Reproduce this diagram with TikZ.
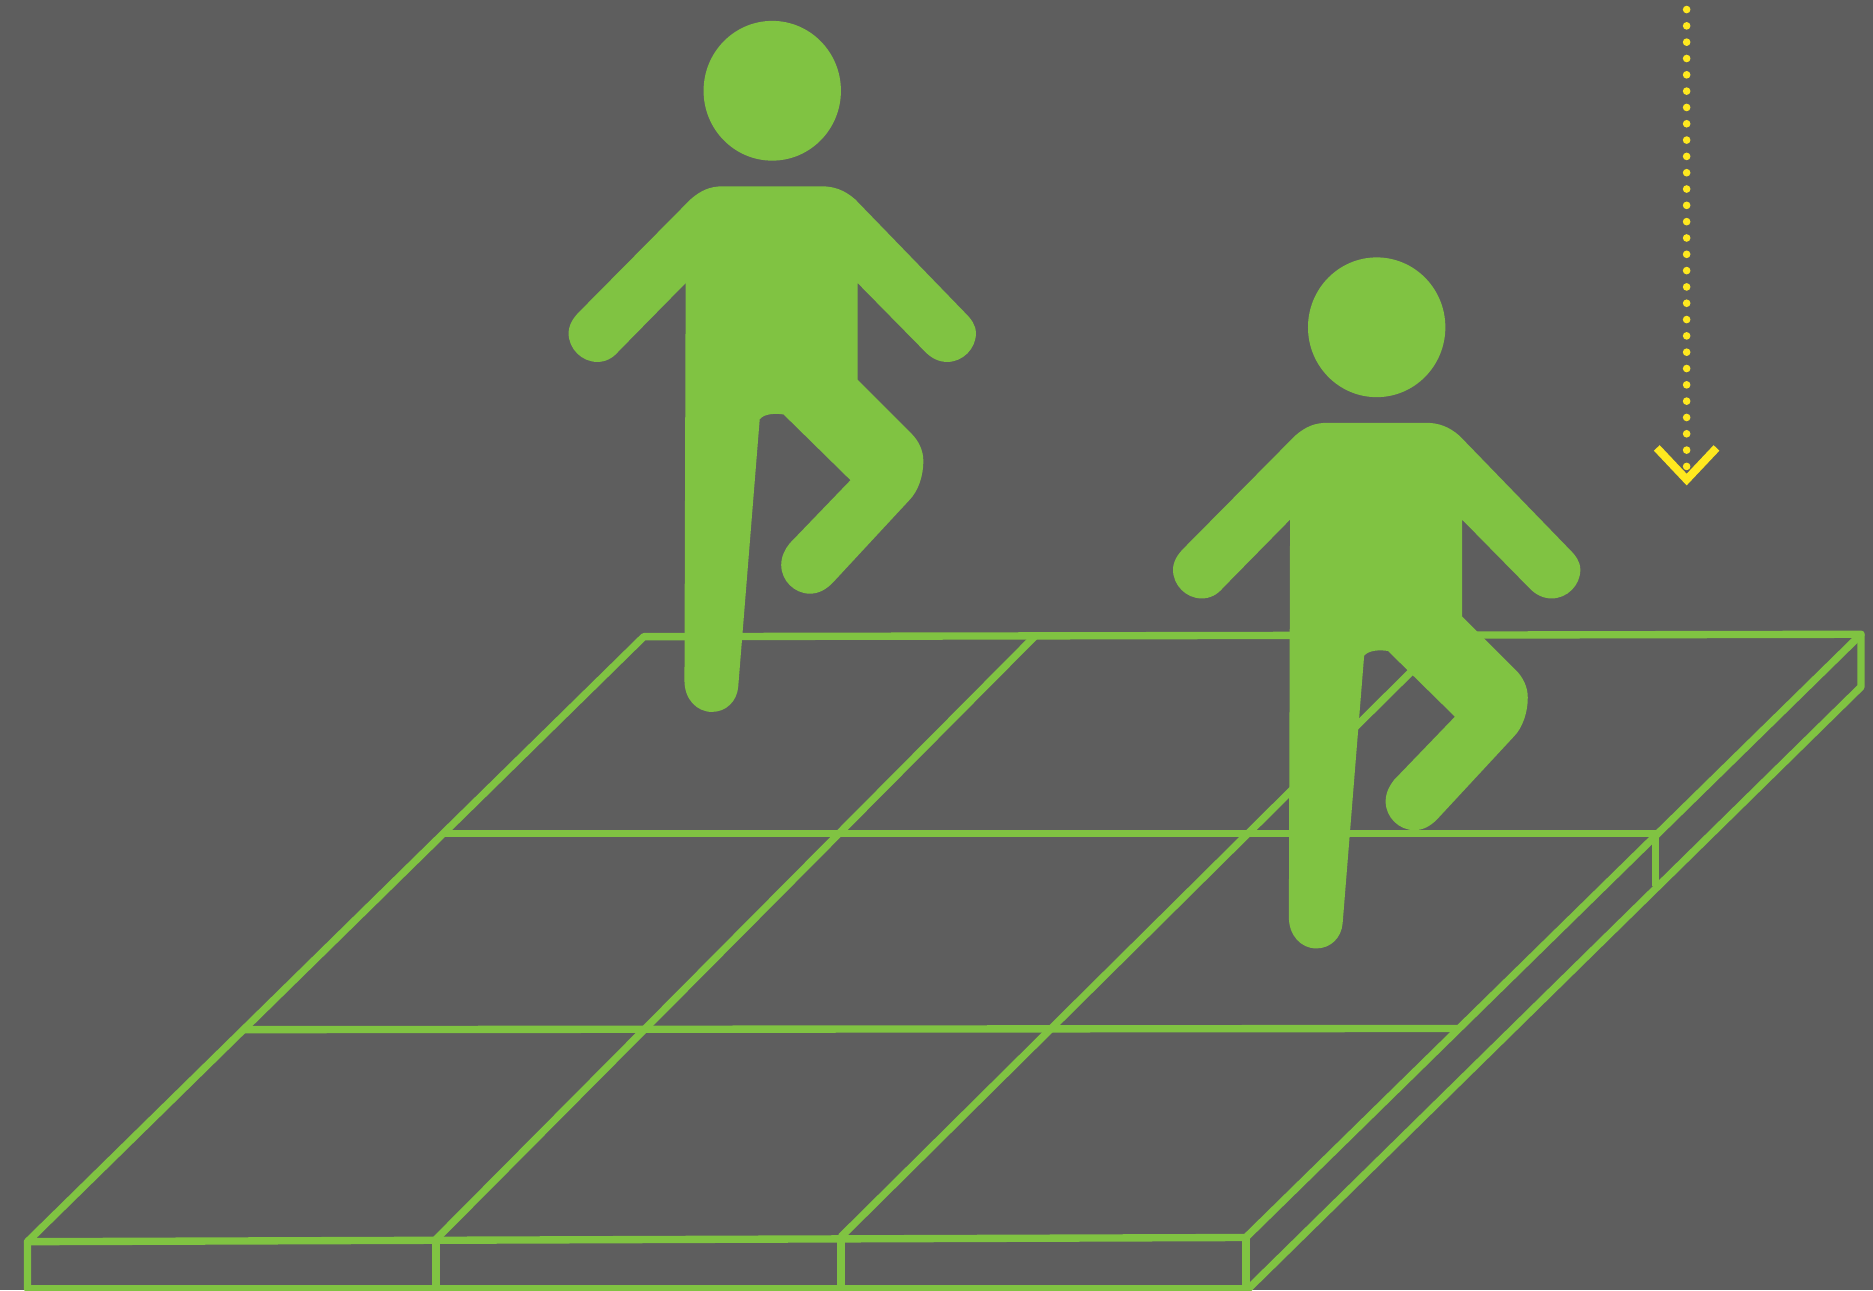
\documentclass[tikz,border=0pt]{standalone}
\usepackage{xcolor}
\definecolor{bggrey}{HTML}{5E5E5E}
\definecolor{figgreen}{HTML}{80C342}
\definecolor{dropyellow}{HTML}{FFE91F}
\tikzset{
  bar/.style={draw=figgreen, line width=1.75pt, line join=round},
  person/.style={fill=figgreen},
  arrowhead/.style={draw=dropyellow, line width=1.9pt, line join=miter}
}
\newcommand{\walker}[2]{%
\begin{scope}[shift={(#1,#2)}]
\fill[person] (646.5,76) ellipse [x radius=57.5, y radius=58.5];
\fill[person] (605,156) -- (688,156) .. controls (698,156) and (707,159) .. (716,167)
  -- (808,262) .. controls (813,267) and (817,272) .. (817,279) .. controls (817,292) and (806,303) .. (793,303)
  .. controls (786,303) and (780,300) .. (775,295)
  -- (718,237) -- (718,318) -- (763,363) .. controls (769,369) and (773,377) .. (773,386)
  .. controls (773,398) and (769,411) .. (761,419)
  -- (697,488) .. controls (691,494) and (685,497) .. (678,497) .. controls (665,497) and (654,486) .. (654,473)
  .. controls (654,466) and (657,460) .. (661,455)
  -- (712,402) -- (656,347) .. controls (650,346) and (640,346) .. (636,351)
  -- (618,575) .. controls (617,587) and (608,596) .. (596,596) .. controls (583,596) and (573,585) .. (573,570)
  -- (574,237) -- (518,294) .. controls (513,300) and (507,303) .. (500,303) .. controls (487,303) and (476,292) .. (476,279)
  .. controls (476,272) and (480,266) .. (485,261)
  -- (578,167) .. controls (587,159) and (595,156) .. (605,156) -- cycle;
\end{scope}}

\begin{document}
\begin{tikzpicture}[x=0.01cm, y=-0.01cm]
\useasboundingbox (0,0) rectangle (1568,1080);
\fill[bggrey] (0,0) rectangle (1568,1080);
% platform corners
\coordinate (fl) at (23,1039.5);
\coordinate (fr) at (1043,1036);
\coordinate (bl) at (539,533);
\coordinate (br) at (1558,531);
\coordinate (flb) at (23,1079);
\coordinate (frb) at (1045,1079);
\coordinate (brb) at (1558,575);
% top face and side
\draw[bar] (fl) -- (bl) -- (br) -- (fr) -- cycle;
\draw[bar] (br) -- (brb) -- (frb) -- (flb) -- (fl);
\draw[bar] (fr) -- (1043,1079);
% grid on the top face
\draw[bar] (365,1037.5) -- (866,533);
\draw[bar] (704,1035.5) -- (1211,533);
\draw[bar] (370,698) -- (1388,698);
\draw[bar] (203,862) -- (1221,861);
% front posts
\draw[bar] (365,1037.5) -- (365,1079);
\draw[bar] (704,1035.5) -- (704,1079);
\draw[bar] (1386,698) -- (1386,742);
% the two people
\walker{0}{0}
\walker{506}{198}
% falling dots
\foreach \i in {0,...,28} \fill[dropyellow] (1412,8+13.66*\i) circle (3.2);
\draw[arrowhead] (1387,375) -- (1412,401.5) -- (1437,375);
\end{tikzpicture}
\end{document}
